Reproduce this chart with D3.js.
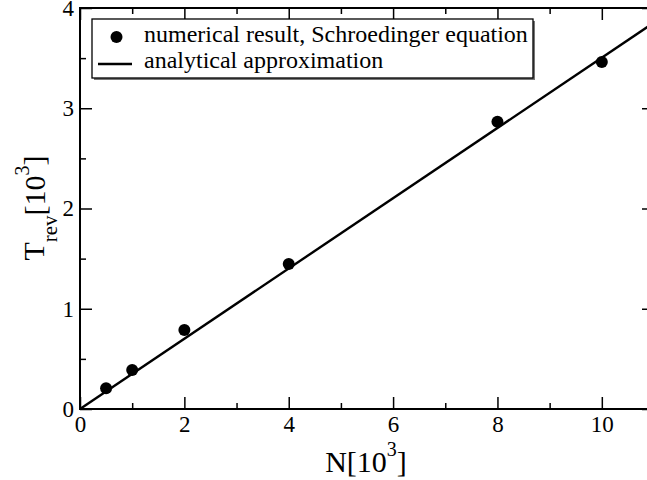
<!DOCTYPE html>
<html>
<head>
<meta charset="utf-8">
<script src="https://cdn.jsdelivr.net/npm/d3@7"></script>
<style>
  body { margin: 0; background: #fff; }
  svg { display: block; }
  svg text { font-family: 'Liberation Serif', Tinos, 'Times New Roman', Times, 'Nimbus Roman', 'DejaVu Serif', serif; }
</style>
</head>
<body>
<svg id="chart" width="647" height="480"></svg>
<script>
(function () {
    'use strict';

    // data (N and T_rev in units of 10^3)
    var nValues = [0.5, 1, 2, 4, 8, 10];
    var tValues = [0.206, 0.389, 0.788, 1.446, 2.866, 3.461];
    var fitN = [0, 11];
    var fitT = [0, 3.855];
    var xMajorTicks = [0, 2, 4, 6, 8, 10];
    var yMajorTicks = [0, 1, 2, 3, 4];
    var legendLabels = ['numerical result, Schroedinger equation', 'analytical approximation'];

    var left = 80, top = 8, plotW = 574, plotH = 401;

    var svg = d3.select('#chart');

    var x = d3.scaleLinear().domain([0, 11]).range([0, plotW]);
    var y = d3.scaleLinear().domain([0, 4]).range([plotH, 0]);

    var g = svg.append('g')
        .attr('transform', 'translate(' + left + ',' + top + ')');

    // minor ticks
    var xMinor = d3.range(1, 11, 2);
    var yMinor = d3.range(0.5, 4, 1);

    function styleAxis(sel) {
        sel.attr('font-family', null);
        sel.select('.domain').remove();
        sel.selectAll('line').attr('stroke', '#000').attr('stroke-width', 1.5);
        sel.selectAll('text').attr('fill', '#000').style('font-size', '23px');
    }

    g.append('g').attr('transform', 'translate(0,' + plotH + ')')
        .call(d3.axisBottom(x).tickValues(xMajorTicks).tickSize(-12).tickPadding(7).tickFormat(d3.format('d')))
        .call(styleAxis);
    g.append('g').attr('transform', 'translate(0,' + plotH + ')')
        .call(d3.axisBottom(x).tickValues(xMinor).tickSize(-6).tickFormat(''))
        .call(styleAxis);
    g.append('g')
        .call(d3.axisTop(x).tickValues(xMajorTicks).tickSize(-12).tickFormat(''))
        .call(styleAxis);
    g.append('g')
        .call(d3.axisTop(x).tickValues(xMinor).tickSize(-6).tickFormat(''))
        .call(styleAxis);

    g.append('g')
        .call(d3.axisLeft(y).tickValues(yMajorTicks).tickSize(-12).tickPadding(6).tickFormat(d3.format('d')))
        .call(styleAxis);
    g.append('g')
        .call(d3.axisLeft(y).tickValues(yMinor).tickSize(-6).tickFormat(''))
        .call(styleAxis);
    g.append('g').attr('transform', 'translate(' + plotW + ',0)')
        .call(d3.axisRight(y).tickValues(yMajorTicks).tickSize(-12).tickFormat(''))
        .call(styleAxis);
    g.append('g').attr('transform', 'translate(' + plotW + ',0)')
        .call(d3.axisRight(y).tickValues(yMinor).tickSize(-6).tickFormat(''))
        .call(styleAxis);

    // frame
    g.append('rect')
        .attr('width', plotW).attr('height', plotH)
        .attr('fill', 'none').attr('stroke', '#000').attr('stroke-width', 2);

    // analytical line
    var line = d3.line()
        .x(function (d) { return x(d[0]); })
        .y(function (d) { return y(d[1]); });

    g.append('path')
        .datum(d3.zip(fitN, fitT))
        .attr('d', line)
        .attr('fill', 'none').attr('stroke', '#000').attr('stroke-width', 2.4);

    // numerical points
    g.selectAll('circle.pt')
        .data(d3.zip(nValues, tValues))
        .enter().append('circle')
        .attr('class', 'pt')
        .attr('cx', function (d) { return x(d[0]); })
        .attr('cy', function (d) { return y(d[1]); })
        .attr('r', 6)
        .attr('fill', '#000');

    // legend
    var lg = svg.append('g').attr('transform', 'translate(92,19)');
    lg.append('rect')
        .attr('x', 2).attr('y', 2).attr('width', 441).attr('height', 59)
        .attr('fill', '#777');
    lg.append('rect')
        .attr('width', 441).attr('height', 59)
        .attr('fill', '#fff').attr('stroke', '#000').attr('stroke-width', 1.3);
    lg.append('circle').attr('cx', 24.5).attr('cy', 18).attr('r', 6).attr('fill', '#000');
    lg.append('line').attr('x1', 6).attr('x2', 40).attr('y1', 45).attr('y2', 45)
        .attr('stroke', '#000').attr('stroke-width', 2.4);
    lg.selectAll('text.lab')
        .data(legendLabels)
        .enter().append('text')
        .attr('class', 'lab')
        .attr('x', 52)
        .attr('y', function (d, i) { return 23 + i * 26; })
        .style('font-size', '24px')
        .text(function (d) { return d; });

    // axis titles
    var xt = svg.append('text')
        .attr('x', 366).attr('y', 472)
        .attr('text-anchor', 'middle')
        .style('font-size', '30px');
    xt.append('tspan').text('N[10');
    xt.append('tspan').attr('dy', -16).style('font-size', '20px').text('3');
    xt.append('tspan').attr('dy', 16).text(']');

    var yt = svg.append('text')
        .attr('transform', 'translate(44,208) rotate(-90)')
        .attr('text-anchor', 'middle')
        .style('font-size', '30px');
    yt.append('tspan').text('T');
    yt.append('tspan').attr('dy', 13).style('font-size', '21px').text('rev');
    yt.append('tspan').attr('dy', -12).text('[10');
    yt.append('tspan').attr('dy', -16).style('font-size', '20px').text('3');
    yt.append('tspan').attr('dy', 15).text(']');
})();
</script>
</body>
</html>
